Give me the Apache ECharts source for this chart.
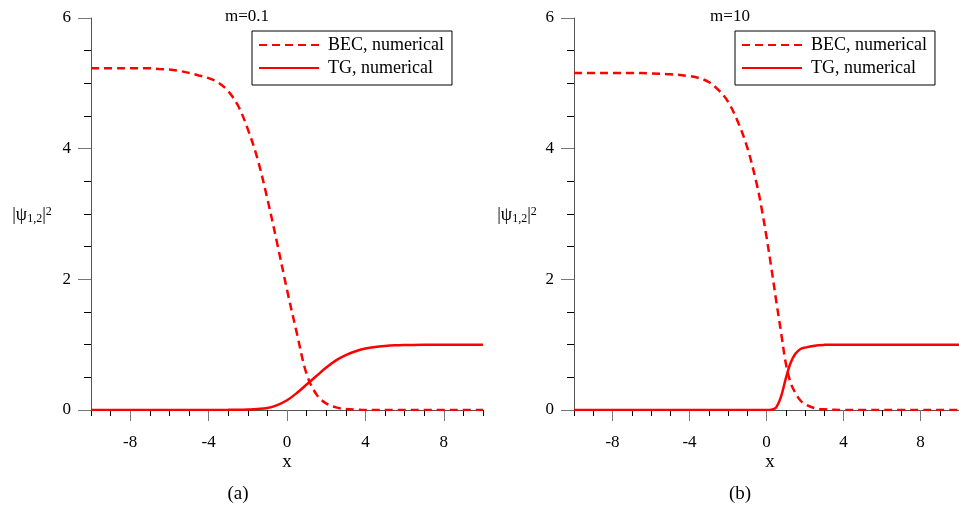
<!DOCTYPE html>
<html>
<head>
<meta charset="utf-8">
<script src="https://cdn.jsdelivr.net/npm/echarts@6/dist/echarts.min.js"></script>
<style>html,body{margin:0;padding:0;background:#fff;}#c{width:959px;height:507px;}</style>
</head>
<body>
<div id="c"></div>
<script>
// ---- data ----
const xA   = [-10,-9,-8,-7,-6.5,-6,-5.5,-5,-4.5,-4,-3.5,-3,-2.5,-2,-1.5,-1,-0.5,0,0.5,1,1.5,2,2.5,3,3.5,4,4.5,5,5.5,6,7,8,9,10];
const becA = [5.23,5.23,5.23,5.23,5.22,5.21,5.19,5.16,5.12,5.08,5.01,4.88,4.66,4.30,3.84,3.23,2.55,1.84,1.18,0.55,0.24,0.10,0.04,0.015,0.005,0,0,0,0,0,0,0,0,0];
const tgA  = [0,0,0,0,0,0,0,0,0,0,0.001,0.002,0.004,0.008,0.015,0.03,0.075,0.15,0.26,0.39,0.52,0.65,0.76,0.84,0.90,0.94,0.965,0.98,0.99,0.995,1,1,1,1];

const xB   = [-10,-9,-8,-7,-6,-5,-4,-3.5,-3,-2.5,-2,-1.5,-1,-0.5,-0.25,0,0.25,0.5,0.75,1,1.25,1.5,1.75,2,2.5,3,3.5,4,5,6,7,8,9,10];
const becB = [5.16,5.16,5.16,5.16,5.15,5.14,5.11,5.08,5.02,4.90,4.72,4.42,4.02,3.45,3.08,2.65,2.18,1.68,1.20,0.72,0.42,0.26,0.15,0.09,0.03,0.01,0.003,0,0,0,0,0,0,0];
const tgB  = [0,0,0,0,0,0,0,0,0,0,0,0,0,0,0,0,0.005,0.04,0.2,0.48,0.72,0.86,0.93,0.955,0.985,0.997,1,1,1,1,1,1,1,1];

const xMajorTicks = [-8,-4,0,4,8];
const seriesNames = ['BEC, numerical','TG, numerical'];
const panelTitles = ['m=0.1','m=10'];
const panelCaptions = ['(a)','(b)'];
const xName = 'x';

// ---- chart ----
const FONT = 'Liberation Serif';
const RED = '#ff0000';
const zip = (xs, ys) => xs.map((x, i) => [x, ys[i]]);

function xAxes(g) {
  return [
    { gridIndex: g, type: 'value', min: -10, max: 10, interval: 1,
      axisLine: { show: true, onZero: false, lineStyle: { color: '#555', width: 1 } },
      axisTick: { show: true, length: 6, lineStyle: { color: '#000', width: 1 } },
      axisLabel: { show: false }, splitLine: { show: false } },
    { gridIndex: g, type: 'value', min: -10, max: 10, position: 'bottom',
      axisLine: { show: false, onZero: false },
      axisTick: { show: true, customValues: xMajorTicks, length: 11, lineStyle: { color: '#777', width: 1 } },
      axisLabel: { show: true, customValues: xMajorTicks, margin: 24, fontFamily: FONT, fontSize: 17, color: '#000' },
      splitLine: { show: false } }
  ];
}
function yAxis(g) {
  return { gridIndex: g, type: 'value', min: 0, max: 6, interval: 2, position: 'left',
    axisLine: { show: true, onZero: false, lineStyle: { color: '#555', width: 1 } },
    axisTick: { show: true, length: 13, lineStyle: { color: '#777', width: 1 } },
    minorTick: { show: true, splitNumber: 4, length: 7, lineStyle: { color: '#000', width: 1 } },
    axisLabel: { margin: 20, fontFamily: FONT, fontSize: 17, color: '#000' },
    splitLine: { show: false }, minorSplitLine: { show: false } };
}
function lineSeries(name, xi, yi, data, dashed) {
  return { name, type: 'line', xAxisIndex: xi, yAxisIndex: yi, data,
    symbol: 'none', showSymbol: false, smooth: 0.35,
    lineStyle: { color: RED, width: 2.5, type: dashed ? [8, 5] : 'solid' },
    itemStyle: { color: RED }, animation: false };
}
function legend(left) {
  return { left, top: 31, orient: 'vertical', itemWidth: 60, itemHeight: 14, itemGap: 5,
    padding: [5, 8, 8, 6], borderColor: '#000', borderWidth: 1, backgroundColor: '#fff',
    itemStyle: { opacity: 0 }, lineStyle: { opacity: 1 },
    textStyle: { fontFamily: FONT, fontSize: 18, color: '#000', lineHeight: 18, padding: [0, 0, 0, 4] },
    data: seriesNames, selectedMode: false };
}
function txt(x, y, text, size) {
  return { type: 'text', x, y, silent: true,
    style: { text, align: 'center', verticalAlign: 'middle', fontFamily: FONT, fontSize: size, fill: '#000' } };
}
function ylab(x, y) {
  return { type: 'text', x, y, silent: true,
    style: { text: '{m||ψ}{s|1,2}{m||}{p|2}', align: 'center', verticalAlign: 'middle',
      fontFamily: FONT, fill: '#000',
      rich: {
        m: { fontFamily: FONT, fontSize: 18, fill: '#000', lineHeight: 24, verticalAlign: 'middle' },
        s: { fontFamily: FONT, fontSize: 12, fill: '#000', lineHeight: 24, verticalAlign: 'bottom', padding: [0, 0, 2, 0] },
        p: { fontFamily: FONT, fontSize: 12, fill: '#000', lineHeight: 24, verticalAlign: 'top', padding: [3, 0, 0, 0] }
      } } };
}

const chart = echarts.init(document.getElementById('c'), null, { renderer: 'canvas' });
chart.setOption({
  animation: false,
  backgroundColor: '#fff',
  grid: [
    { left: 91, top: 18, width: 392, height: 392 },
    { left: 574, top: 18, width: 392, height: 392 }
  ],
  xAxis: [...xAxes(0), ...xAxes(1)],
  yAxis: [yAxis(0), yAxis(1)],
  legend: [legend(252), legend(735)],
  series: [
    lineSeries(seriesNames[0], 0, 0, zip(xA, becA), true),
    lineSeries(seriesNames[1], 0, 0, zip(xA, tgA), false),
    lineSeries(seriesNames[0], 2, 1, zip(xB, becB), true),
    lineSeries(seriesNames[1], 2, 1, zip(xB, tgB), false)
  ],
  graphic: [
    txt(247, 17, panelTitles[0], 17),
    txt(730, 17, panelTitles[1], 17),
    ylab(32, 215),
    ylab(517, 215),
    txt(287, 462, xName, 19),
    txt(770, 462, xName, 19),
    txt(238, 494, panelCaptions[0], 19),
    txt(740, 494, panelCaptions[1], 19)
  ]
});
</script>
</body>
</html>
